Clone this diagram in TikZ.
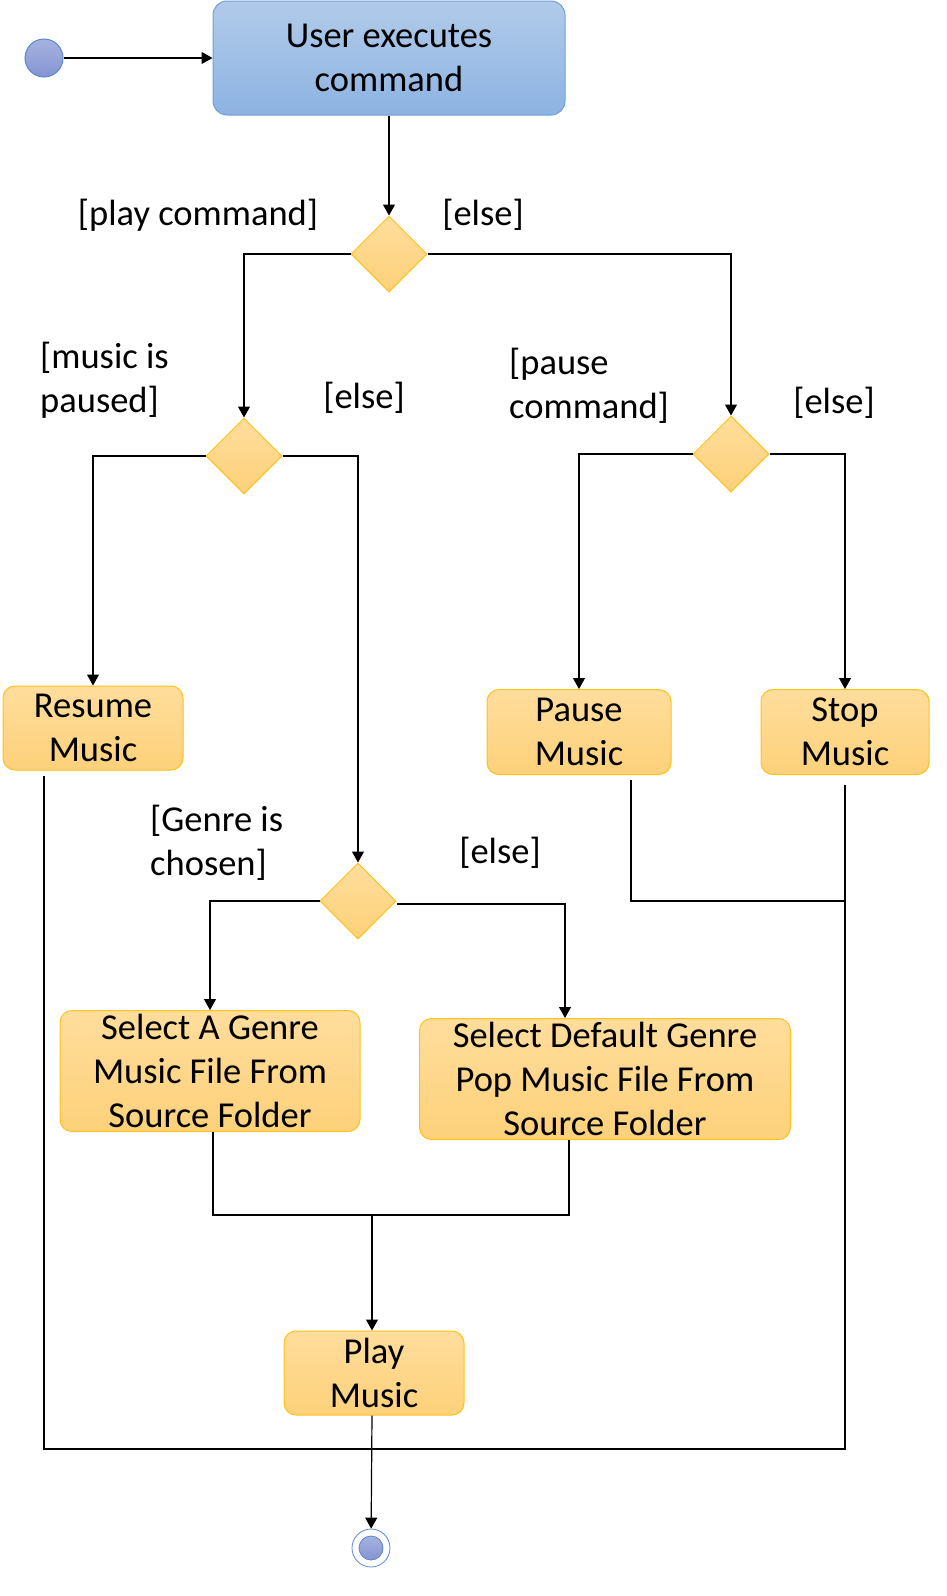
\documentclass[tikz,border=0pt]{standalone}
\usepackage{fontspec}
\setmainfont{Carlito}
\usepackage{tikz}
\usetikzlibrary{positioning, shapes.geometric, arrows.meta}

\definecolor{acttop}{HTML}{FFDD9C}
\definecolor{actbot}{HTML}{FDD17A}
\definecolor{actline}{HTML}{FFC21A}
\definecolor{cmdtop}{HTML}{B1CBE9}
\definecolor{cmdbot}{HTML}{8DB3E2}
\definecolor{cmdline}{HTML}{6FA0DC}
\definecolor{dottop}{HTML}{A6B3DF}
\definecolor{dotbot}{HTML}{8494D2}
\definecolor{dotline}{HTML}{5B86D6}

\begin{document}
\begin{tikzpicture}[x=1pt, y=-1pt,
    every node/.style={font=\fontsize{36.5}{44}\selectfont},
    activity/.style={draw=actline, line width=1pt, rounded corners=12pt, top color=acttop, bottom color=actbot, align=center, inner sep=0pt},
    choice/.style={diamond, draw=actline, line width=1pt, top color=acttop, bottom color=actbot, minimum width=76pt, minimum height=76pt, inner sep=0pt},
    guard/.style={inner sep=0pt, align=left},
    flow/.style={line width=1.2pt, -{Triangle[length=11pt, width=12pt]}},
    wire/.style={line width=1.2pt}]
    \useasboundingbox (0,0) rectangle (947,1596);
    % start and first action
    \node[circle, draw=dotline, line width=1pt, top color=dottop, bottom color=dotbot, minimum size=38pt, inner sep=0pt] (start) at (44,58) {};
    \node[draw=cmdline, line width=1pt, rounded corners=14pt, top color=cmdtop, bottom color=cmdbot, align=center, minimum width=352pt, minimum height=114pt] (cmd) at (389,58) {User executes\\command};
    % decisions
    \node[choice] (dplay) at (389,254) {};
    \node[choice] (dpaused) at (244,456) {};
    \node[choice] (dpause) at (731,454) {};
    \node[choice] (dgenre) at (358,901) {};
    % actions
    \node[activity, minimum width=180pt, minimum height=84pt] (resume) at (93,728) {Resume\\Music};
    \node[activity, minimum width=184pt, minimum height=85pt] (pause) at (579,732) {Pause\\Music};
    \node[activity, minimum width=168pt, minimum height=85pt] (stop) at (845,732) {Stop\\Music};
    \node[activity, minimum width=300pt, minimum height=121pt] (selgenre) at (210,1071) {Select A Genre\\Music File From\\Source Folder};
    \node[activity, minimum width=371pt, minimum height=121pt] (seldefault) at (605,1079) {Select Default Genre\\Pop Music File From\\Source Folder};
    \node[activity, minimum width=180pt, minimum height=84pt] (play) at (374,1373) {Play\\Music};
    % final node
    \node[circle, draw=dotline, line width=0.8pt, fill=white, minimum size=38pt, inner sep=0pt] (final) at (371,1548) {};
    \node[circle, draw=dotline, line width=0.8pt, top color=dottop, bottom color=dotbot, minimum size=24pt, inner sep=0pt] (finaldot) at (final) {};
    % guards
    \node[guard] (gplay) at (198,215) {[play command]};
    \node[guard] (gelse1) at (483,215) {[else]};
    \node[guard, anchor=west] (gpaused) at (40,380) {[music is\\paused]};
    \node[guard] (gelse2) at (364,398) {[else]};
    \node[guard, anchor=west] (gpause) at (509,386) {[pause\\command]};
    \node[guard] (gelse3) at (834,403) {[else]};
    \node[guard, anchor=west] (gchosen) at (150,843) {[Genre is\\chosen]};
    \node[guard] (gelse4) at (500,853) {[else]};
    % junctions
    \coordinate (merge) at (372,1215);
    \coordinate (stopjoin) at (845,901);
    \coordinate (endleft) at (44,1449);
    \coordinate (endright) at (845,1449);
    % connectors
    \draw[flow] (start) -- (cmd);
    \draw[flow] (cmd) -- (dplay);
    \draw[flow] (dplay.west) -| (dpaused.north);
    \draw[flow] (dplay.east) -| (dpause.north);
    \draw[flow] (dpaused.west) -| (resume.north);
    \draw[flow] (dpaused.east) -| (dgenre.north);
    \draw[flow] (dpause.west) -| (pause.north);
    \draw[flow] (dpause.east) -| (stop.north);
    \draw[flow] (dgenre.west) -| (selgenre.north);
    \draw[flow] (dgenre.east) ++(0,3) -| ([xshift=-40pt]seldefault.north);
    \draw[wire] (selgenre.south) ++(3,0) |- (merge) -| ([xshift=-36pt]seldefault.south);
    \draw[flow] (merge) -- (merge |- play.north);
    \draw[flow] (play.south) ++(-2,0) -- (final);
    \draw[wire] (resume.south) ++(-49,5) -- (endleft) -- (endright) -- ([yshift=-10pt]stop.south);
    \draw[wire] (pause.south) ++(52,5) |- (stopjoin);
\end{tikzpicture}
\end{document}
